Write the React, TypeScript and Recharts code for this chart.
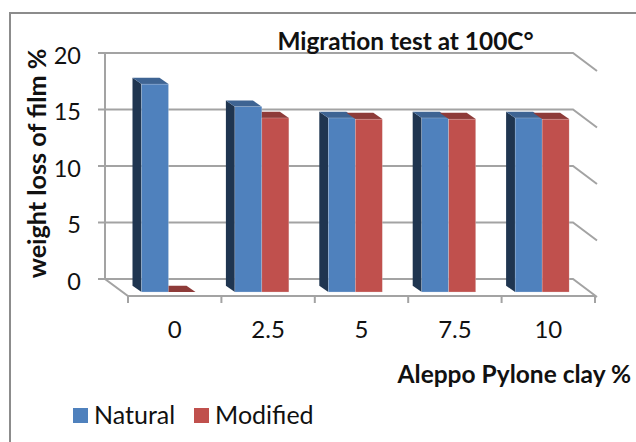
import { BarChart, Bar, XAxis, YAxis, CartesianGrid, Legend, Label } from "recharts";

const CATEGORIES = ["0", "2.5", "5", "7.5", "10"];
const NATURAL = [18.4, 16.4, 15.4, 15.4, 15.4];
const MODIFIED = [0, 15.4, 15.3, 15.3, 15.3];
const Y_TICKS = [0, 5, 10, 15, 20];
const LEGEND_ORDER = ["Natural", "Modified"];

const chartData = CATEGORIES.map((clay, i) => ({
  clay,
  natural: NATURAL[i],
  modified: MODIFIED[i],
}));

const FONT = "Lato, sans-serif";
const GRID = "#a3a3a3";

// plot area is the plane the bar fronts stand in, the back wall sits up and left of it
const PLOT_LEFT = 128;
const PLOT_RIGHT = 595;
const PLOT_TOP = 66;
const PLOT_BOTTOM = 292;
const BAND = (PLOT_RIGHT - PLOT_LEFT) / CATEGORIES.length;
const WALL_UP = 13;
const WALL_LEFT = 23;

// fake 3D depth of a bar
const DEPTH_X = 9;
const DEPTH_Y = 6.3;
const BAR_SHIFT = 6.5;

function NaturalBar({ x, y, width, height }: any) {
  const left = x - BAR_SHIFT;
  const right = left + width;
  const bottom = y + height;
  return (
    <g>
      <polygon
        points={`${left},${y} ${left - DEPTH_X},${y - DEPTH_Y} ${left - DEPTH_X},${bottom - DEPTH_Y} ${left},${bottom}`}
        fill="#1f3550"
      />
      <polygon
        points={`${left},${y} ${right},${y} ${right - DEPTH_X},${y - DEPTH_Y} ${left - DEPTH_X},${y - DEPTH_Y}`}
        fill="#3e6493"
      />
      <rect x={left} y={y} width={width} height={height} fill="#4f81bd" stroke="#d5dce6" strokeWidth={0.3} />
    </g>
  );
}

function ModifiedBar({ x, y, width, height, payload }: any) {
  const left = x - BAR_SHIFT;
  const right = left + width;
  // the blue bar hides the back left corner when it is taller
  const hidden = payload.natural - payload.modified > 0.5;
  const backLeft = hidden ? left : left - DEPTH_X;
  return (
    <g>
      <polygon
        points={`${left},${y} ${right},${y} ${right - DEPTH_X},${y - DEPTH_Y} ${backLeft},${y - DEPTH_Y}`}
        fill="#8e3b39"
      />
      <rect x={left} y={y} width={width} height={height} fill="#c0504d" stroke="#e0d6d6" strokeWidth={0.3} />
    </g>
  );
}

function YTick({ y, payload }: any) {
  return (
    <text x={81} y={y - WALL_UP + 10.5} textAnchor="end" fontFamily={FONT} fontSize={23.5} fill="#111">
      {payload.value}
    </text>
  );
}

function gridLine({ x1, x2, y1, key }: any) {
  const back = y1 - WALL_UP;
  return (
    <path
      key={key}
      d={`M${x1 - WALL_LEFT - 7},${back} H${x2 - 22} L${x2 + 2},${y1 + 5}`}
      fill="none"
      stroke={GRID}
      strokeWidth={2}
    />
  );
}

function legendText(value: string) {
  return (
    <span
      style={{
        color: "#111",
        fontFamily: FONT,
        fontSize: 25,
        marginLeft: 2,
        marginRight: 9,
        position: "relative",
        top: 5,
      }}
    >
      {value}
    </span>
  );
}

export default function App() {
  const wallX = PLOT_LEFT - WALL_LEFT;
  const floorY = PLOT_BOTTOM + 4;
  const edges = [0, 1, 2, 3, 4, 5].map((i) => PLOT_LEFT + i * BAND);

  return (
    <div style={{ position: "absolute", left: 0, top: 0, width: 636, height: 442, overflow: "hidden", background: "#fff" }}>
      <div style={{ position: "absolute", left: 9, top: 12, width: 700, height: 500, border: "2px solid #8c8c8c" }} />
      <div style={{ position: "absolute", left: 0, top: 0 }}>
        <BarChart
          width={636}
          height={442}
          data={chartData}
          margin={{ top: PLOT_TOP, right: 636 - PLOT_RIGHT, bottom: 0, left: 0 }}
          barCategoryGap={20}
          barGap={0}
        >
          <CartesianGrid vertical={false} horizontal={gridLine} />
          <path
            d={`M${wallX},${PLOT_TOP - WALL_UP} V${PLOT_BOTTOM - WALL_UP} L${PLOT_LEFT},${floorY} H${PLOT_RIGHT}`}
            fill="none"
            stroke={GRID}
            strokeWidth={2}
          />
          {edges.map((edge) => (
            <path key={edge} d={`M${edge},${floorY} V${floorY + 7}`} stroke={GRID} strokeWidth={2} />
          ))}
          <XAxis
            dataKey="clay"
            height={150}
            axisLine={false}
            tickLine={false}
            tickMargin={23}
            tick={{ fontFamily: FONT, fontSize: 24, fill: "#111" }}
          >
            <Label
              value="Aleppo Pylone clay %"
              position="insideTopRight"
              offset={0}
              dy={74}
              dx={36}
              style={{ fontFamily: FONT, fontSize: 24.5, fontWeight: 700, fill: "#111" }}
            />
          </XAxis>
          <YAxis
            width={PLOT_LEFT}
            domain={[0, 20]}
            ticks={Y_TICKS}
            axisLine={false}
            tickLine={false}
            tick={YTick}
            interval={0}
          />
          <text x={405.5} y={50} textAnchor="middle" fontFamily={FONT} fontSize={24.4} fontWeight={700} fill="#111">
            Migration test at 100C°
          </text>
          <text
            transform="translate(46,163.5) rotate(-90)"
            textAnchor="middle"
            fontFamily={FONT}
            fontSize={25.2}
            fontWeight={700}
            fill="#111"
          >
            weight loss of film %
          </text>
          <Legend
            layout="horizontal"
            align="center"
            verticalAlign="middle"
            iconType="square"
            iconSize={15}
            formatter={legendText}
            itemSorter={(item: any) => LEGEND_ORDER.indexOf(item.value)}
            wrapperStyle={{ left: 73, top: 394, width: "auto" }}
          />
          <Bar dataKey="natural" name="Natural" fill="#4f81bd" shape={NaturalBar} isAnimationActive={false} />
          <Bar dataKey="modified" name="Modified" fill="#c0504d" shape={ModifiedBar} isAnimationActive={false} />
        </BarChart>
      </div>
    </div>
  );
}
